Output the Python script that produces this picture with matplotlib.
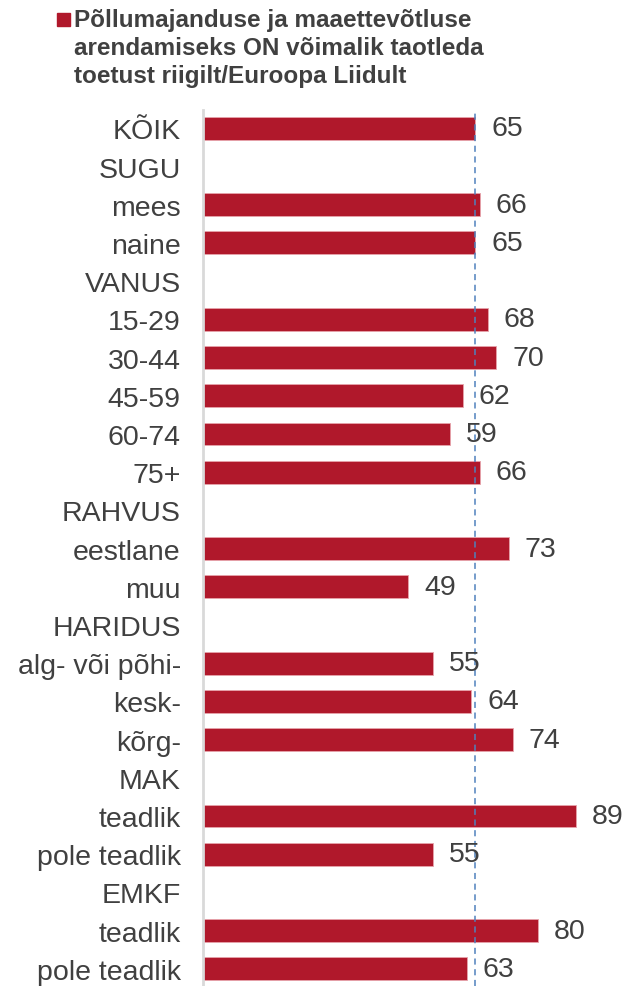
import matplotlib.pyplot as plt
from matplotlib.patches import Rectangle
import numpy as np

plt.rcParams['font.family'] = ['Liberation Sans', 'DejaVu Sans']

categories = ['KÕIK', 'SUGU', 'mees', 'naine', 'VANUS', '15-29', '30-44', '45-59',
              '60-74', '75+', 'RAHVUS', 'eestlane', 'muu', 'HARIDUS',
              'alg- või põhi-', 'kesk-', 'kõrg-', 'MAK', 'teadlik', 'pole teadlik',
              'EMKF', 'teadlik', 'pole teadlik']
values = [65, None, 66, 65, None, 68, 70, 62, 59, 66, None, 73, 49, None,
          55, 64, 74, None, 89, 55, None, 80, 63]
reference = 65
legend_label = ('Põllumajanduse ja maaettevõtluse\n'
                'arendamiseks ON võimalik taotleda\n'
                'toetust riigilt/Euroopa Liidult')

bar_color = '#B0182B'
text_color = '#404040'

W, H = 626, 987
fig = plt.figure(figsize=(W / 100, H / 100), dpi=100)
ax = fig.add_axes([203 / W, 0, 419 / W, 1 - 111 / H])

ypos = np.arange(len(categories))
for y, v in zip(ypos, values):
    if v is None:
        continue
    ax.barh(y, v, height=0.6, color=bar_color, edgecolor='#E7A3AB', linewidth=0.6)
    ax.text(v + 3.8, y, str(v), va='center', ha='left', fontsize=20.5, color=text_color)

ax.axvline(reference, color='#4F81BD', linestyle=(0, (4, 3)), linewidth=1.1)

ax.set_xlim(0, 100)
ax.set_ylim(22.45, -0.48)
ax.set_yticks(ypos)
ax.set_yticklabels(categories, fontsize=20.5, color=text_color)
ax.tick_params(axis='y', length=0, pad=16)
ax.set_xticks([])
for s in ['top', 'right', 'bottom']:
    ax.spines[s].set_visible(False)
ax.spines['left'].set_color('#D9D9D9')
ax.spines['left'].set_linewidth(2)

# legend: square marker + bold multi-line label
fig.patches.append(Rectangle((57 / W, 1 - 27 / H), 13 / W, 13 / H,
                             transform=fig.transFigure, color=bar_color))
fig.text(74 / W, 1 - 9 / H, legend_label, ha='left', va='top', fontsize=17.5,
         fontweight='bold', color=text_color, linespacing=1.27)

fig.savefig('out.png', dpi=100)
